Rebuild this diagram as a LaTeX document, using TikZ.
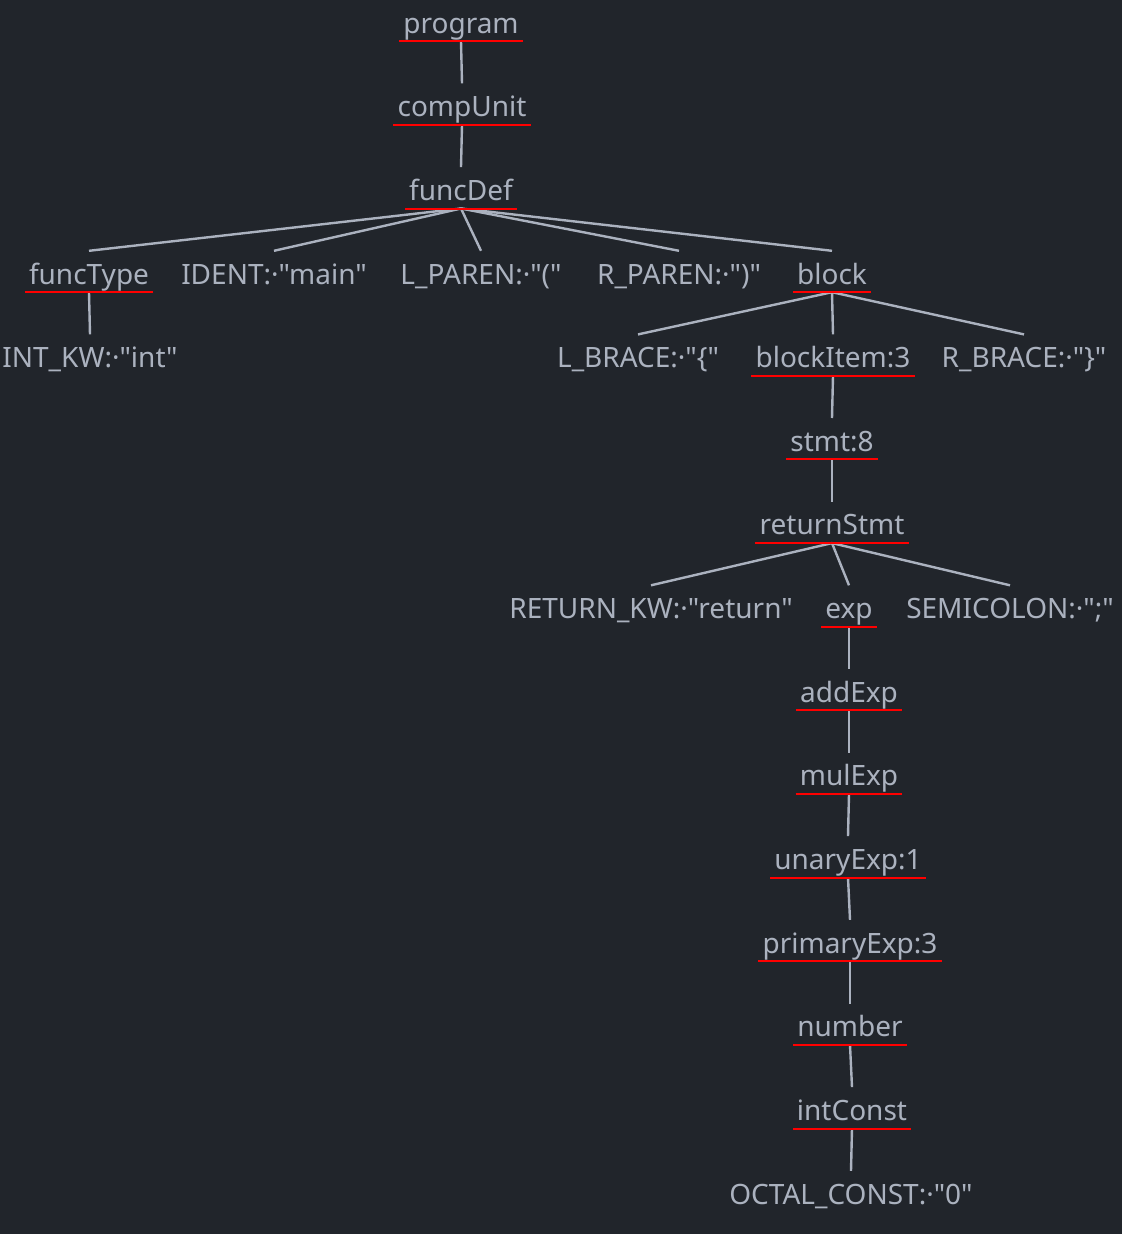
\documentclass[tikz,border=0pt]{standalone}
\usepackage{fontspec}
\setmainfont{Noto Sans}[Ligatures=TeXOff]
\definecolor{bgc}{HTML}{21252B}
\definecolor{fgc}{HTML}{ABB2BF}
\begin{document}
\begin{tikzpicture}[x=1pt,y=1pt,
  tn/.style={text=fgc,font=\fontsize{28}{32}\selectfont,inner xsep=4pt,inner ysep=0pt,text height=33pt,text depth=8pt,anchor=base},
  edge/.style={draw=fgc,line width=2.4pt},
  uline/.style={draw=red,line width=2pt}]
\fill[bgc] (0,0) rectangle (1122,-1234);
\useasboundingbox (0,0) rectangle (1122,-1234);
\node[tn] (program) at (461,-33) {program};
\node[tn] (compUnit) at (462,-116.6) {compUnit};
\node[tn] (funcDef) at (461,-200.3) {funcDef};
\node[tn] (funcType) at (89,-284) {funcType};
\node[tn] (ident) at (274,-284) {IDENT:·"main"};
\node[tn] (lParen) at (481,-284) {L\_PAREN:·"("};
\node[tn] (rParen) at (679,-284) {R\_PAREN:·")"};
\node[tn] (block) at (832,-284) {block};
\node[tn] (intKw) at (90,-367.6) {INT\_KW:·"int"};
\node[tn] (lBrace) at (638,-367.6) {L\_BRACE:·"\{"};
\node[tn] (blockItem) at (833,-367.6) {blockItem:3};
\node[tn] (rBrace) at (1024,-367.6) {R\_BRACE:·"\}"};
\node[tn] (stmt) at (832,-451.2) {stmt:8};
\node[tn] (returnStmt) at (832,-534.9) {returnStmt};
\node[tn] (returnKw) at (651,-618.5) {RETURN\_KW:·"return"};
\node[tn] (exp) at (849,-618.5) {exp};
\node[tn] (semicolon) at (1010,-618.5) {SEMICOLON:·";"};
\node[tn] (addExp) at (849,-702.1) {addExp};
\node[tn] (mulExp) at (849,-785.8) {mulExp};
\node[tn] (unaryExp) at (848,-869.4) {unaryExp:1};
\node[tn] (primaryExp) at (850,-953) {primaryExp:3};
\node[tn] (number) at (850,-1036.7) {number};
\node[tn] (intConst) at (852,-1120.3) {intConst};
\node[tn] (octalConst) at (851,-1204) {OCTAL\_CONST:·"0"};
\draw[edge] (program.south) -- (compUnit.north);
\draw[edge] (compUnit.south) -- (funcDef.north);
\foreach \c in {funcType,ident,lParen,rParen,block}
  \draw[edge] (funcDef.south) -- (\c.north);
\draw[edge] (funcType.south) -- (intKw.north);
\foreach \c in {lBrace,blockItem,rBrace}
  \draw[edge] (block.south) -- (\c.north);
\draw[edge] (blockItem.south) -- (stmt.north);
\draw[edge] (stmt.south) -- (returnStmt.north);
\foreach \c in {returnKw,exp,semicolon}
  \draw[edge] (returnStmt.south) -- (\c.north);
\draw[edge] (exp.south) -- (addExp.north);
\draw[edge] (addExp.south) -- (mulExp.north);
\draw[edge] (mulExp.south) -- (unaryExp.north);
\draw[edge] (unaryExp.south) -- (primaryExp.north);
\draw[edge] (primaryExp.south) -- (number.north);
\draw[edge] (number.south) -- (intConst.north);
\draw[edge] (intConst.south) -- (octalConst.north);
\foreach \n in {program,compUnit,funcDef,funcType,block,blockItem,stmt,returnStmt,exp,addExp,mulExp,unaryExp,primaryExp,number,intConst}
  \draw[uline] (\n.south west) -- (\n.south east);
\end{tikzpicture}
\end{document}
